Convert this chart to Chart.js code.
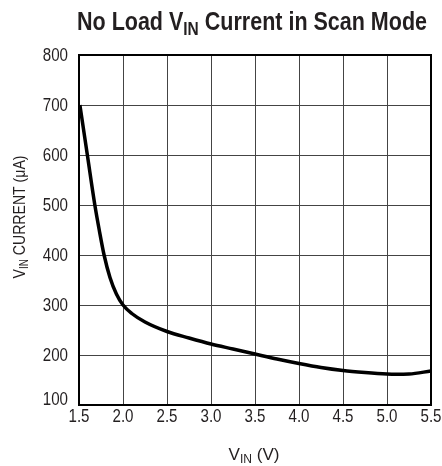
<!DOCTYPE html>
<html>
<head>
<meta charset="utf-8">
<script src="https://cdn.jsdelivr.net/npm/chart.js@4/dist/chart.umd.min.js"></script>
<style>
  html, body { margin: 0; padding: 0; background: #fff; }
  #wrap { width: 442px; height: 466px; position: relative; }
</style>
</head>
<body>
<div id="wrap"><canvas id="myChart" width="442" height="466"></canvas></div>
<script>
'use strict'
// data
var vinValues = [1.51, 1.595, 1.68, 1.73, 1.785, 1.852, 1.925, 2.0, 2.1, 2.25, 2.5, 2.75, 3.0, 3.25, 3.5, 3.75, 4.0, 4.25, 4.5, 4.75, 5.0, 5.1, 5.25, 5.5];
var currentValues = [700, 600, 500, 450, 400, 355, 322, 300, 283, 266, 247, 234, 222, 212, 202, 192, 183, 175, 169, 165, 162, 161.5, 162, 168];

var xTickValues = [1.5, 2.0, 2.5, 3.0, 3.5, 4.0, 4.5, 5.0, 5.5];
var yTickValues = [100, 200, 300, 400, 500, 600, 700, 800];

var titleParts = [['No Load V', false], ['IN', true], [' Current in Scan Mode', false]];
var yTitleParts = [['V', false], ['IN', true], [' CURRENT (\u03bcA)', false]];
var xTitleParts = [['V', false], ['IN', true], [' (V)', false]];

var fontName = '"Liberation Sans", Arial, sans-serif';
var textColor = '#231f20';
var squeeze = 0.84; // the original type is a condensed face

var points = [];
for (var i = 0; i < vinValues.length; i++) {
    points.push({ x: vinValues[i], y: currentValues[i] });
}

// draw text with a subscript part, squeezed to a given width
function drawParts(ctx, parts, size, subSize, weight, cx, cy, width) {
    var total = 0;
    for (var i = 0; i < parts.length; i++) {
        ctx.font = weight + ' ' + (parts[i][1] ? subSize : size) + 'px ' + fontName;
        total += ctx.measureText(parts[i][0]).width;
    }
    var sx = width / total;
    ctx.save();
    ctx.translate(cx - width / 2, cy);
    ctx.scale(sx, 1);
    ctx.textAlign = 'left';
    ctx.textBaseline = 'alphabetic';
    var x = 0;
    for (var j = 0; j < parts.length; j++) {
        ctx.font = weight + ' ' + (parts[j][1] ? subSize : size) + 'px ' + fontName;
        ctx.fillText(parts[j][0], x, parts[j][1] ? size * 0.2 : 0);
        x += ctx.measureText(parts[j][0]).width;
    }
    ctx.restore();
}

function drawSqueezed(ctx, text, x, y, align) {
    ctx.save();
    ctx.translate(x, y);
    ctx.scale(squeeze, 1);
    ctx.textAlign = align;
    ctx.fillText(text, 0, 0);
    ctx.restore();
}

var textPlugin = {
    id: 'texts',
    afterDraw: function (chart) {
        var c = chart.ctx;
        var area = chart.chartArea;
        var xs = chart.scales.x, ys = chart.scales.y;
        c.save();
        c.fillStyle = textColor;

        // tick labels
        c.font = '18px ' + fontName;
        c.textBaseline = 'middle';
        for (var i = 0; i < yTickValues.length; i++) {
            var py = ys.getPixelForValue(yTickValues[i]);
            if (i === 0) py -= 6;
            drawSqueezed(c, String(yTickValues[i]), area.left - 11, py + 1, 'right');
        }
        c.textBaseline = 'top';
        for (var k = 0; k < xTickValues.length; k++) {
            drawSqueezed(c, xTickValues[k].toFixed(1), xs.getPixelForValue(xTickValues[k]), area.bottom + 3, 'center');
        }

        // titles
        drawParts(c, titleParts, 25, 18, 'bold', 252, 30, 350);
        drawParts(c, xTitleParts, 17, 12, 'normal', 254, 460, 51);
        c.translate(25, 217);
        c.rotate(-Math.PI / 2);
        drawParts(c, yTitleParts, 17, 12, 'normal', 0, 0, 123);
        c.restore();
    }
};

var framePlugin = {
    // full box round the plot
    id: 'frame',
    afterDraw: function (chart) {
        var c = chart.ctx, a = chart.chartArea;
        c.save();
        c.strokeStyle = '#000';
        c.lineWidth = 2;
        c.strokeRect(a.left, a.top, a.right - a.left, a.bottom - a.top);
        c.restore();
    }
};

var ctx = document.getElementById('myChart').getContext('2d');
var chart = new Chart(ctx, {
    type: 'scatter',
    data: {
        datasets: [{
            data: points,
            showLine: true,
            borderColor: '#000',
            borderWidth: 3.5,
            pointRadius: 0,
            cubicInterpolationMode: 'monotone',
            fill: false
        }]
    },
    options: {
        responsive: false,
        animation: false,
        layout: { padding: { top: 55, right: 11, left: 0, bottom: 0 } },
        plugins: { legend: { display: false }, tooltip: { enabled: false } },
        scales: {
            x: {
                type: 'linear',
                min: 1.5,
                max: 5.5,
                afterFit: function (scale) { scale.height = 61; },
                ticks: { stepSize: 0.5, display: false },
                grid: { color: '#444', lineWidth: 1, drawTicks: false },
                border: { color: '#000', width: 2 }
            },
            y: {
                min: 100,
                max: 800,
                afterFit: function (scale) { scale.width = 79; },
                ticks: { stepSize: 100, display: false },
                grid: { color: '#444', lineWidth: 1, drawTicks: false },
                border: { color: '#000', width: 2 }
            }
        }
    },
    plugins: [framePlugin, textPlugin]
});
</script>
</body>
</html>
